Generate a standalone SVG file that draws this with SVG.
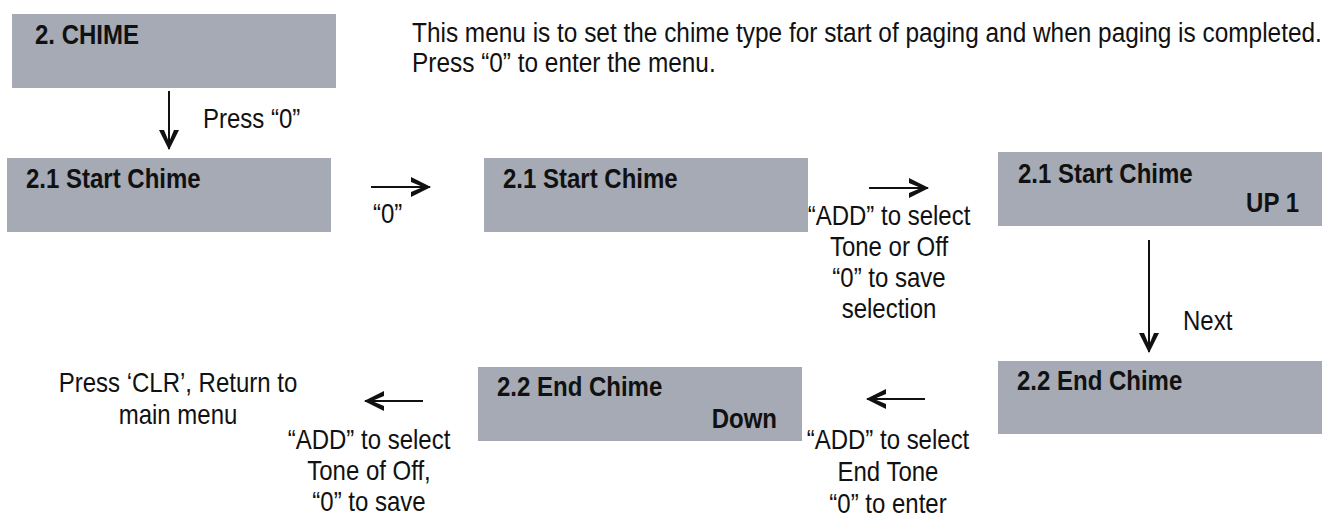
<svg xmlns="http://www.w3.org/2000/svg" width="1337" height="523" viewBox="0 0 1337 523">
  <style>
    .box { fill: #a5aab4; }
    .t, .b { font-family: "Liberation Sans", Arial, sans-serif; font-size: 24px; fill: #111;
             transform-box: fill-box; transform-origin: 0 81%; transform: scaleY(1.14); }
    .b { font-weight: bold; }
    .p { font-size: 24.4px; }
    .c { text-anchor: middle; }
    .r { text-anchor: end; }
    .ln { stroke: #111; stroke-width: 2; fill: none; }
  </style>
  <defs>
    <marker id="ah" markerUnits="userSpaceOnUse" markerWidth="26" markerHeight="26" viewBox="-23 -13 26 26" refX="0" refY="0" orient="auto">
      <path d="M1,0 L-19,-10 L-19,-5 L-7,0 L-19,5 L-19,10 Z" fill="#111"/>
    </marker>
  </defs>
  <rect width="1337" height="523" fill="#fff"/>

  <text class="t p" x="412" y="42">This menu is to set the chime type for start of paging and when paging is completed.</text>
  <text class="t p" x="412" y="72">Press “0” to enter the menu.</text>

  <g id="n-chime">
    <rect class="box" x="12" y="14" width="324" height="74"/>
    <text class="b" x="35" y="44">2.  CHIME</text>
  </g>
  <g id="n-start1">
    <rect class="box" x="7" y="158" width="324" height="74"/>
    <text class="b" x="26" y="188">2.1 Start Chime</text>
  </g>
  <g id="n-start2">
    <rect class="box" x="484" y="158" width="324" height="74"/>
    <text class="b" x="503" y="188">2.1 Start Chime</text>
  </g>
  <g id="n-start3">
    <rect class="box" x="998" y="152" width="324" height="74"/>
    <text class="b" x="1018" y="183">2.1 Start Chime</text>
    <text class="b r" x="1299" y="212">UP 1</text>
  </g>
  <g id="n-end1">
    <rect class="box" x="998" y="361" width="324" height="73"/>
    <text class="b" x="1017" y="390">2.2 End Chime</text>
  </g>
  <g id="n-end2">
    <rect class="box" x="478" y="367" width="324" height="74"/>
    <text class="b" x="497" y="396">2.2 End Chime</text>
    <text class="b r" x="777" y="428">Down</text>
  </g>
  <g id="n-return">
    <text class="t c" x="178" y="392">Press ‘CLR’, Return to</text>
    <text class="t c" x="178" y="424">main menu</text>
  </g>

  <g id="connectors">
    <line class="ln" x1="169" y1="91" x2="169" y2="149" marker-end="url(#ah)"/>
    <text class="t" x="203" y="128">Press “0”</text>

    <line class="ln" x1="371" y1="187" x2="430" y2="187" marker-end="url(#ah)"/>
    <text class="t" x="373" y="223">“0”</text>

    <line class="ln" x1="869" y1="188" x2="928" y2="188" marker-end="url(#ah)"/>
    <text class="t c" x="889" y="225">“ADD” to select</text>
    <text class="t c" x="889" y="256">Tone or Off</text>
    <text class="t c" x="889" y="287">“0” to save</text>
    <text class="t c" x="889" y="318">selection</text>

    <line class="ln" x1="1149" y1="240" x2="1149" y2="352" marker-end="url(#ah)"/>
    <text class="t" x="1183" y="330">Next</text>

    <line class="ln" x1="925" y1="399" x2="867" y2="399" marker-end="url(#ah)"/>
    <text class="t c" x="888" y="449">“ADD” to select</text>
    <text class="t c" x="888" y="481">End Tone</text>
    <text class="t c" x="888" y="513">“0” to enter</text>

    <line class="ln" x1="423" y1="401" x2="365" y2="401" marker-end="url(#ah)"/>
    <text class="t c" x="369" y="449">“ADD” to select</text>
    <text class="t c" x="369" y="480">Tone of Off,</text>
    <text class="t c" x="369" y="511">“0” to save</text>
  </g>
</svg>
